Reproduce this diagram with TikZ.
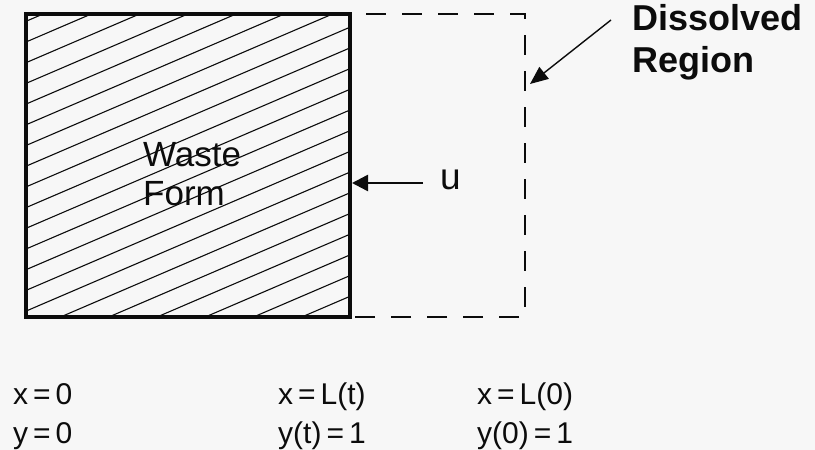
\documentclass[tikz,border=0pt]{standalone}
\usepackage{fontspec}
\setmainfont{Liberation Sans}
\usepackage{tikz}
\usetikzlibrary{arrows.meta,positioning}
\definecolor{paper}{RGB}{247,247,247}
\definecolor{ink}{RGB}{12,12,12}

\begin{document}
\begin{tikzpicture}[
    x=1pt, y=-1pt,
    >={Triangle[length=16pt,width=16pt]},
    wasteedge/.style={draw=ink, line width=3.5pt},
    hatchline/.style={draw=ink, line width=1.1pt},
    dissolvededge/.style={draw=ink, line width=2.8pt, dash pattern=on 20pt off 16pt, dash phase=20pt},
    bodytext/.style={font=\fontsize{35}{39}\selectfont, text=ink, anchor=base west, inner sep=0pt, align=left},
    regiontext/.style={font=\fontsize{36}{42}\selectfont\bfseries, text=ink, anchor=base west, inner sep=0pt, align=left},
    eqtext/.style={font=\fontsize{30}{39}\selectfont, text=ink, anchor=base west, inner sep=0pt, align=left},
    arrow/.style={->, draw=ink, line width=2.5pt},
    thinarrow/.style={-{Triangle[length=18pt,width=15pt]}, draw=ink, line width=1.4pt}
    ]
    \fill[paper] (0,0) rectangle (815,450);
    \useasboundingbox (0,0) rectangle (815,450);

    \coordinate (wfNW) at (26,14);
    \coordinate (wfSE) at (350,317);
    \coordinate (drNE) at (525,14);
    \coordinate (drSE) at (525,317);

    % hatching of the waste form
    \begin{scope}
        \clip (wfNW) rectangle (wfSE);
        \foreach \k in {0,...,20}
            \draw[hatchline] (26,21.3+20.7*\k) -- ++(324,-139);
    \end{scope}
    \draw[wasteedge] (wfNW) rectangle (wfSE);
    \draw[dissolvededge] (wfNW -| wfSE) -- (drNE) -- (drSE) -- (wfSE);

    % multi-line nodes sit on the baseline of their last line
    \node[bodytext] (waste) at (143,205) {Waste\\Form};
    \node[bodytext, font=\fontsize{37}{40}\selectfont] (u) at (440,189) {u};
    \node[regiontext] (region) at (632,72) {Dissolved\\Region};

    \node[eqtext] (left) at (13,443) {x\,=\,0\\y\,=\,0};
    \node[eqtext] (front) at (278,443) {x\,=\,L(t)\\y(t)\,=\,1};
    \node[eqtext] (start) at (477,443) {x\,=\,L(0)\\y(0)\,=\,1};

    \coordinate (uTail) at (423,183);
    \coordinate (uTip) at (352,183);
    \coordinate (regionTail) at (611,20);
    \coordinate (regionTip) at (530,84);

    \draw[arrow] (uTail) -- (uTip);
    \draw[thinarrow] (regionTail) -- (regionTip);
\end{tikzpicture}
\end{document}
